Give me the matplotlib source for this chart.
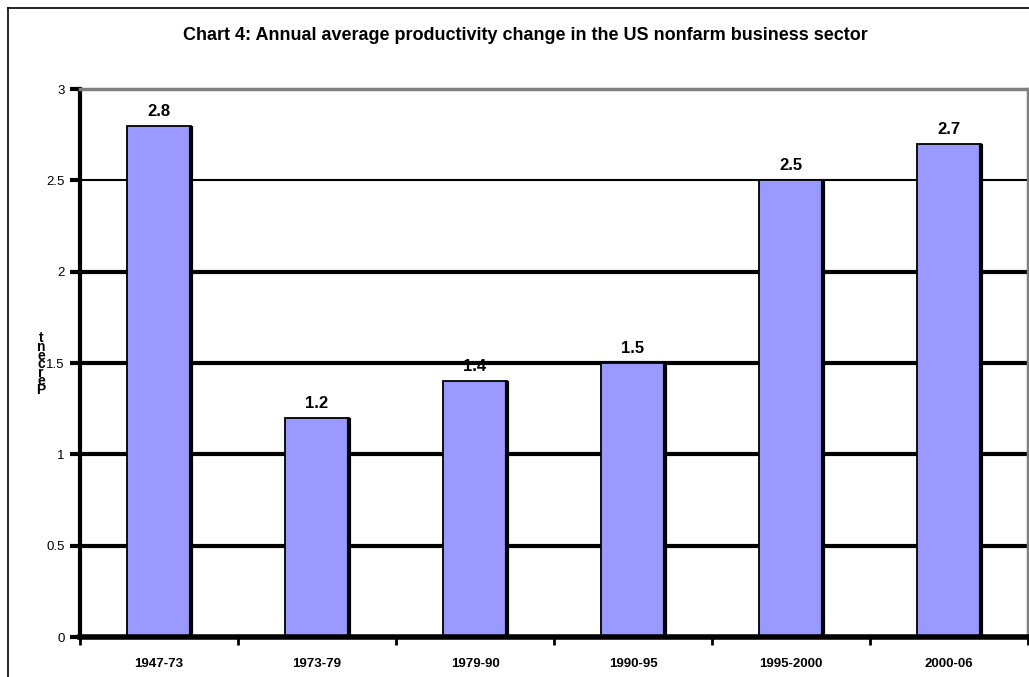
import matplotlib.pyplot as plt
from matplotlib.lines import Line2D

periods = ['1947-73', '1973-79', '1979-90', '1990-95', '1995-2000', '2000-06']
growth = [2.8, 1.2, 1.4, 1.5, 2.5, 2.7]
yticks = [0, 0.5, 1, 1.5, 2, 2.5, 3]
ytick_labels = ['0', '0.5', '1', '1.5', '2', '2.5', '3']

plt.rcParams['font.family'] = ['Liberation Sans', 'DejaVu Sans']

W, H = 1029, 677
fig = plt.figure(figsize=(W / 100, H / 100), dpi=100)

# outer chart frame (runs off the right and bottom)
fig.add_artist(Line2D([8 / W, 1], [1 - 8 / H, 1 - 8 / H], color='black', lw=1.2))
fig.add_artist(Line2D([8 / W, 8 / W], [0, 1 - 8 / H], color='black', lw=1.2))

ax = fig.add_axes([80 / W, 40 / H, 948 / W, 548 / H])
x = list(range(len(periods)))
bw = 0.405

# gridlines behind the bars
for y in yticks[1:-1]:
    lw = 1.5 if y == 2.5 else 3
    ax.axhline(y, color='black', lw=lw, zorder=1)

ax.bar(x, growth, width=bw, color='#9999FF', edgecolor='black', linewidth=1.3, zorder=3)
# darker right-hand side of each bar
ax.vlines([xi + bw / 2 for xi in x], 0, growth, color='black', lw=3, zorder=4)

for xi, v in zip(x, growth):
    ax.annotate(f'{v}', (xi, v), xytext=(0, 5), textcoords='offset points',
                ha='center', va='bottom', fontsize=12, fontweight='bold')

ax.set_xlim(-0.5, len(periods) - 0.5)
ax.set_ylim(0, 3)
ax.set_yticks(yticks)
ax.set_yticklabels(ytick_labels, fontsize=9.5)
ax.set_xticks([i - 0.5 for i in range(len(periods) + 1)])
ax.set_xticklabels([])
ax.set_xticks(x, minor=True)
ax.set_xticklabels(periods, minor=True, fontsize=9.5, fontweight='bold')
ax.tick_params(axis='x', which='major', direction='out', length=6, width=2)
ax.tick_params(axis='x', which='minor', length=0, pad=15)
ax.tick_params(axis='y', direction='out', length=7, width=3, pad=4)

ax.spines['left'].set_linewidth(3)
ax.spines['bottom'].set_linewidth(4)
ax.spines['bottom'].set_zorder(5)
for s in ('top', 'right'):
    ax.spines[s].set_color('#808080')
    ax.spines[s].set_linewidth(2.5)

# y-axis title, letters stacked from the bottom up
label = 'Percent'
for i, ch in enumerate(label):
    fig.text(41 / W, 1 - (390 - i * 8.6) / H, ch, ha='center', va='center',
             fontsize=10, fontweight='bold')

fig.text(525 / W, 1 - 35 / H,
         'Chart 4: Annual average productivity change in the US nonfarm business sector',
         ha='center', va='center', fontsize=13, fontweight='bold')

fig.savefig('out.png', dpi=100)
